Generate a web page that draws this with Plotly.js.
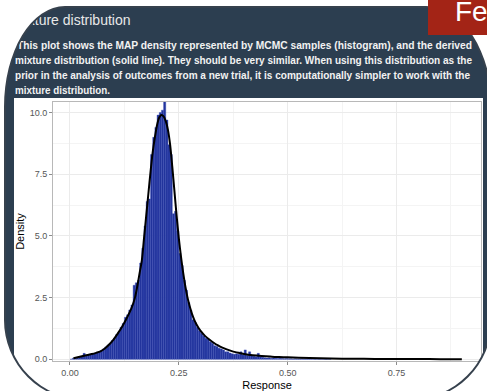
<!DOCTYPE html>
<html><head><meta charset="utf-8">
<script src="https://cdn.plot.ly/plotly-3.0.1.min.js"></script>
<style>
html,body{margin:0;padding:0;background:#fff;width:487px;height:391px;overflow:hidden;font-family:"Liberation Sans",Arial,sans-serif;}
#card{position:absolute;left:5px;top:7px;width:486px;height:393px;background:#2c3e50;border-radius:60px 65px 80px 80px / 100px 100px 80px 80px;overflow:hidden;}
#cardBorder{position:absolute;left:4px;top:6px;width:488px;height:395px;box-sizing:border-box;border:2px solid #36414d;border-radius:61px 66px 81px 81px / 101px 101px 81px 81px;pointer-events:none;}
#title{position:absolute;left:8px;top:3px;font-size:14px;line-height:20px;color:#e8e8e8;white-space:nowrap;}
.desc{position:absolute;font-size:10.5px;line-height:15px;font-weight:bold;color:#f2f2f2;white-space:nowrap;transform-origin:0 0;}
#plot{position:absolute;left:9px;top:91px;width:469px;height:302px;background:#fff;}
#fe{position:absolute;left:428px;top:0;width:60px;height:35px;background:#a32416;overflow:hidden;}
#fe span{position:absolute;left:27px;top:-2px;font-size:28px;line-height:28px;color:#fff;}
</style></head>
<body>
<div id="card">
  <div id="title">Mixture distribution</div>
  <div class="desc" id="d1" style="left:12px;top:31px">This plot shows the MAP density represented by MCMC samples (histogram), and the derived</div>
  <div class="desc" id="d2" style="left:10px;top:46px">mixture distribution (solid line). They should be very similar. When using this distribution as the</div>
  <div class="desc" id="d3" style="left:10px;top:61px">prior in the analysis of outcomes from a new trial, it is computationally simpler to work with the</div>
  <div class="desc" id="d4" style="left:10px;top:76px">mixture distribution.</div>
  <div id="plot"></div>
</div>
<div id="cardBorder"></div>
<div id="fe"><span>Fe</span></div>
<script>
// ---- data ----
const binStart = 0.0;
const binWidth = 0.005;
const histDensity = [
  0, 0.04, 0.06, 0.08, 0.09, 0.12, 0.24, 0.16, 0.17, 0.20,
  0.22, 0.24, 0.27, 0.31, 0.35, 0.42, 0.50, 0.58, 0.64, 0.76,
  0.86, 1.00, 1.10, 1.30, 1.45, 1.70, 1.80, 2.00, 2.20, 3.00,
  3.10, 3.20, 3.90, 4.50, 5.40, 6.40, 6.50, 8.30, 9.00, 9.40,
  9.90, 10.00, 10.10, 10.45, 9.70, 8.70, 8.30, 5.90, 6.00, 5.20,
  4.30, 3.80, 3.20, 2.80, 2.30, 2.00, 1.60, 1.50, 1.30, 1.15,
  1.05, 0.95, 0.85, 0.82, 0.70, 0.65, 0.55, 0.52, 0.45, 0.42,
  0.38, 0.30, 0.30, 0.25, 0.22, 0.20, 0.22, 0.20, 0.30, 0.18,
  0.38, 0.15, 0.30, 0.14, 0.12, 0.10, 0.24, 0.10, 0.08, 0.06,
  0.05, 0.06, 0.04, 0.05, 0.04, 0.03, 0.04, 0.03, 0.02, 0.03,
  0.02, 0.02, 0.01, 0.02, 0.01, 0.01, 0.02, 0.01, 0.01, 0.01,
  0.01, 0, 0.01, 0, 0.01, 0, 0, 0.01, 0, 0
];
const mixX = [0.008,0.02,0.03,0.04,0.05,0.06,0.07,0.08,0.09,0.10,0.11,0.12,0.13,0.14,0.145,0.15,0.155,0.16,0.165,0.17,0.175,0.18,0.185,0.19,0.195,0.20,0.205,0.21,0.215,0.22,0.225,0.23,0.235,0.24,0.245,0.25,0.255,0.26,0.265,0.27,0.275,0.28,0.285,0.29,0.295,0.30,0.31,0.32,0.33,0.34,0.35,0.36,0.37,0.38,0.39,0.40,0.42,0.44,0.46,0.48,0.50,0.55,0.60,0.65,0.70,0.75,0.80,0.85,0.90];
const mixDensity = [0.04,0.09,0.13,0.17,0.21,0.26,0.32,0.44,0.60,0.80,1.05,1.33,1.65,2.02,2.25,2.55,3.0,3.5,4.0,4.9,5.8,6.7,7.6,8.4,9.0,9.5,9.8,9.9,9.85,9.65,9.3,8.7,7.8,6.8,5.8,4.9,4.15,3.5,2.95,2.5,2.15,1.85,1.62,1.43,1.28,1.15,0.95,0.8,0.67,0.56,0.47,0.40,0.34,0.29,0.25,0.21,0.16,0.13,0.11,0.09,0.08,0.05,0.03,0.02,0.015,0.01,0.008,0.005,0.003];
const xTickVals = [0, 0.25, 0.5, 0.75];
const xTickText = ['0.00', '0.25', '0.50', '0.75'];
const yTickVals = [0, 2.5, 5, 7.5, 10];
const yTickText = ['0.0', '2.5', '5.0', '7.5', '10.0'];
const xTitle = 'Response';
const yTitle = 'Density';

// ---- fit description lines to reference widths ----
const targets = {d1: 455, d2: 457, d3: 455, d4: 95};
for (const id in targets) {
  const el = document.getElementById(id);
  const w = el.getBoundingClientRect().width;
  el.style.transform = 'scaleX(' + (targets[id] / w) + ')';
}

const binCenters = histDensity.map((_, i) => binStart + (i + 0.5) * binWidth);
const FONT = 'Liberation Sans, Arial, sans-serif';

const traces = [
  {type: 'bar', x: binCenters, y: histDensity, width: binWidth,
   marker: {color: '#22349c', line: {color: '#3a4db6', width: 0.4}},
   hoverinfo: 'skip'},
  {type: 'scatter', mode: 'lines', x: mixX, y: mixDensity,
   line: {color: '#000', width: 2, shape: 'spline', smoothing: 0.6},
   hoverinfo: 'skip'}
];

const axisCommon = {
  showgrid: true, gridcolor: '#ebebeb', gridwidth: 1,
  zeroline: false, showline: true, mirror: true, linecolor: '#b8b8b8', linewidth: 1,
  ticks: 'outside', ticklen: 3, tickcolor: '#8c8c8c', tickwidth: 1,
  tickfont: {family: FONT, size: 9, color: '#555'},
  fixedrange: true
};

const layout = {
  width: 469, height: 302,
  margin: {l: 39, r: 2, t: 4, b: 39},
  paper_bgcolor: '#fff', plot_bgcolor: '#fff',
  showlegend: false, bargap: 0,
  xaxis: Object.assign({}, axisCommon, {
    range: [-0.039, 0.944], tickmode: 'array', tickvals: xTickVals, ticktext: xTickText,
    minor: {tickvals: [0.125, 0.375, 0.625, 0.875], showgrid: true, gridcolor: '#f4f4f4', ticks: ''},
    title: {text: xTitle, font: {family: FONT, size: 11, color: '#000'}, standoff: 4}
  }),
  yaxis: Object.assign({}, axisCommon, {
    range: [-0.07, 10.43], tickmode: 'array', tickvals: yTickVals, ticktext: yTickText,
    minor: {tickvals: [1.25, 3.75, 6.25, 8.75], showgrid: true, gridcolor: '#f4f4f4', ticks: ''},
    title: {text: yTitle, font: {family: FONT, size: 11, color: '#000'}, standoff: 6}
  })
};

Plotly.newPlot('plot', traces, layout, {displayModeBar: false, staticPlot: true});
</script>
</body></html>
